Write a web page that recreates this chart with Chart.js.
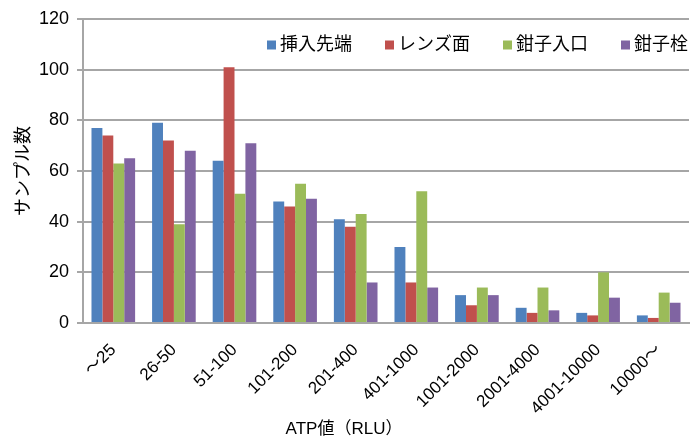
<!DOCTYPE html>
<html>
<head>
<meta charset="utf-8">
<script src="https://cdn.jsdelivr.net/npm/chart.js@4.4.0/dist/chart.umd.min.js"></script>
<style>
  html, body { margin: 0; padding: 0; background: #fff; }
  #wrap { width: 695px; height: 439px; }
</style>
</head>
<body>
<div id="wrap"><canvas id="atpChart" width="695" height="439"></canvas></div>
<script>
const categories = ["～25", "26-50", "51-100", "101-200", "201-400", "401-1000", "1001-2000", "2001-4000", "4001-10000", "10000～"];
const seriesNames = ["挿入先端", "レンズ面", "鉗子入口", "鉗子栓"];
const tipValues = [77, 79, 64, 48, 41, 30, 11, 6, 4, 3];
const lensValues = [74, 72, 101, 46, 38, 16, 7, 4, 3, 2];
const inletValues = [63, 39, 51, 55, 43, 52, 14, 14, 20, 12];
const plugValues = [65, 68, 71, 49, 16, 14, 11, 5, 10, 8];
const colors = ["#4f81bd", "#c0504d", "#9bbb59", "#8064a2"];
const yTicks = [0, 20, 40, 60, 80, 100, 120];
const xTitle = 'ATP値（RLU）';
const yTitle = 'サンプル数';

const FONT = "'Liberation Sans', 'Noto Sans CJK JP', sans-serif";
const gridColor = "#a6a6a6";

// legend inside the plot area (top right) plus the two axis titles
const extras = {
    id: 'extras',
    afterDraw(chart) {
        const ctx = chart.ctx;
        const area = chart.chartArea;
        ctx.save();
        ctx.font = "18px " + FONT;
        ctx.textBaseline = 'middle';
        const box = 9, gap = 4, spacing = 33;
        const y = area.top + 26;
        let x = area.right - 1;
        const items = chart.data.datasets.map(d => ({ label: d.label, color: d.backgroundColor }));
        for (let i = items.length - 1; i >= 0; i--) {
            const w = ctx.measureText(items[i].label).width;
            const tx = x - w;
            ctx.fillStyle = '#000';
            ctx.fillText(items[i].label, tx, y);
            ctx.fillStyle = items[i].color;
            ctx.fillRect(tx - gap - box, y - box / 2, box, box);
            x = tx - gap - box - spacing;
        }

        // axis titles
        ctx.fillStyle = '#000';
        ctx.textAlign = 'center';
        ctx.font = "17px " + FONT;
        ctx.fillText(xTitle, 344, 429);
        ctx.font = "18px " + FONT;
        ctx.translate(24, (area.top + area.bottom) / 2);
        ctx.rotate(-Math.PI / 2);
        ctx.fillText(yTitle, 0, 0);
        ctx.restore();
    }
};

const values = [tipValues, lensValues, inletValues, plugValues];

new Chart(document.getElementById('atpChart'), {
    type: 'bar',
    data: {
        labels: categories,
        datasets: seriesNames.map((name, i) => ({
            label: name,
            data: values[i],
            backgroundColor: colors[i],
            borderWidth: 0,
            categoryPercentage: 0.72,
            barPercentage: 1.0
        }))
    },
    options: {
        responsive: false,
        animation: false,
        layout: { padding: { top: 19, right: 6, left: 0, bottom: 0 } },
        plugins: {
            legend: { display: false },
            tooltip: { enabled: false }
        },
        scales: {
            x: {
                grid: { display: false },
                border: { color: gridColor, width: 2 },
                ticks: {
                    color: '#000',
                    font: { family: FONT, size: 17 },
                    minRotation: 45,
                    maxRotation: 45,
                    padding: 9
                },
                afterFit(scale) { scale.height = 116; }
            },
            y: {
                min: 0,
                max: 120,
                afterBuildTicks(scale) { scale.ticks = yTicks.map(v => ({ value: v })); },
                grid: { color: gridColor, lineWidth: 2, tickLength: 6 },
                border: { color: gridColor, width: 2 },
                ticks: {
                    color: '#000',
                    font: { family: FONT, size: 18 },
                    padding: 8
                },
                afterFit(scale) { scale.width = 83; }
            }
        }
    },
    plugins: [extras]
});
</script>
</body>
</html>
